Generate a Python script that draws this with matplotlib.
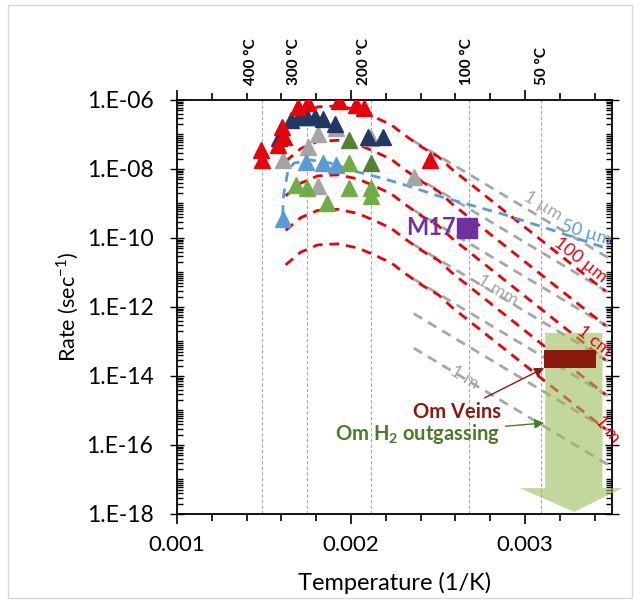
import numpy as np
import matplotlib.pyplot as plt
from matplotlib.ticker import LogLocator, MultipleLocator, NullFormatter, FixedLocator, FixedFormatter
from matplotlib.patches import Polygon, Rectangle

plt.rcParams['font.family'] = ['Lato', 'DejaVu Sans']
plt.rcParams['mathtext.fontset'] = 'custom'
plt.rcParams['mathtext.rm'] = 'Lato'
plt.rcParams['mathtext.bf'] = 'Lato:bold'

# ---- data: x = 1/T (1/K), y = log10(rate / s^-1) ----
# triangles
red_x = [0.001480, 0.001486, 0.001578, 0.001601, 0.001613, 0.001694, 0.001751, 0.001931, 0.002029, 0.002075, 0.002451]
red_y = [-7.45, -7.74, -7.30, -6.78, -7.07, -6.20, -6.09, -6.03, -6.14, -6.23, -7.74]
navy_x = [0.001584, 0.001653, 0.001699, 0.001746, 0.001792, 0.001838, 0.001908, 0.002098, 0.002185]
navy_y = [-7.10, -6.58, -6.49, -6.49, -6.49, -6.55, -6.70, -7.07, -7.07]
grey_x = [0.001607, 0.001751, 0.001809, 0.001913, 0.002116, 0.001809, 0.002364]
grey_y = [-7.74, -7.36, -6.99, -6.81, -7.10, -8.49, -8.23]
ltblue_x = [0.001740, 0.001838, 0.001913, 0.001607]
ltblue_y = [-7.80, -7.83, -7.88, -9.45]
ltgreen_x = [0.001682, 0.001746, 0.001988, 0.001988, 0.002116, 0.002116, 0.001861]
ltgreen_y = [-8.46, -8.55, -7.83, -8.55, -8.55, -8.78, -8.99]
dkgreen_x = [0.001988, 0.002116]
dkgreen_y = [-7.16, -7.83]

# M17
m17_x = 0.002665
m17_y = -9.71

# red model curves (100 um ... 1 m)
curve_x = [0.001624, 0.001711, 0.001809, 0.001925, 0.002040, 0.002133, 0.002231,
           0.002306, 0.002405, 0.002503, 0.002578, 0.003462]
red_100um = [-6.78, -6.41, -6.20, -6.17, -6.29, -6.49, -6.72, -7.01, -7.36, -7.65, -8.00, -11.54]
red_1mm = [-7.78, -7.41, -7.20, -7.17, -7.29, -7.49, -7.72, -8.01, -8.36, -8.65, -9.00, -12.54]
red_1cm = [-8.78, -8.41, -8.20, -8.17, -8.29, -8.49, -8.72, -9.01, -9.36, -9.65, -10.00, -13.54]
red_10cm = [-9.78, -9.41, -9.20, -9.17, -9.29, -9.49, -9.72, -10.01, -10.36, -10.65, -11.00, -14.54]
red_1m = [-10.78, -10.41, -10.20, -10.17, -10.29, -10.49, -10.72, -11.01, -11.36, -11.65, -12.00, -15.54]

# blue 50 um curve
blue_x = [0.001607, 0.001613, 0.001636, 0.001671, 0.001769, 0.001884, 0.002040,
          0.002173, 0.002289, 0.002520, 0.002867, 0.003156, 0.003462]
blue_y = [-9.33, -8.75, -8.09, -7.83, -7.74, -7.83, -8.09, -8.26, -8.43, -8.81, -9.30, -9.77, -10.29]

# grey straight lines (1 um ... 1 m)
grey_line_x = [0.00236, 0.00348]
grey_start = [-7.19, -8.19, -9.19, -10.19, -11.19, -12.19, -13.19]
grey_end = [-10.58, -11.58, -12.58, -13.58, -14.58, -15.58, -16.58]

# temperature marks on the top
temps_C = [400, 300, 200, 100, 50]
temp_text_x = [0.001428, 0.001671, 0.002075, 0.002665, 0.003098]

# ---- figure ----
fig = plt.figure(figsize=(6.4, 6.03), dpi=100)
ax = fig.add_axes([0.2766, 0.1476, 0.6797, 0.6866])
ax.set_yscale('log')
ax.set_xlim(0.001, 0.0035)
ax.set_ylim(1e-18, 1e-6)

red = '#E8000B'
dash = (3.5, 2.5)

for T in temps_C:
    ax.axvline(1.0 / (T + 273.15), color='#A6A6A6', lw=0.8, ls=(0, (3, 2)), zorder=1)

for s, e in zip(grey_start, grey_end):
    ax.plot(grey_line_x, 10.0 ** np.array([s, e]), color='#A6A6A6', lw=2, dashes=dash, zorder=2)

for c in [red_100um, red_1mm, red_1cm, red_10cm, red_1m]:
    ax.plot(curve_x, 10.0 ** np.array(c), color=red, lw=2, dashes=dash, zorder=2)

ax.plot(blue_x, 10.0 ** np.array(blue_y), color='#5B9BD5', lw=2, dashes=dash, zorder=2)

# green arrow (Om H2 outgassing)
bx0, bx1, hx0, hx1, tipx = 0.003116, 0.003445, 0.00297, 0.00356, 0.003283
ytop, yhead, ytip = -12.75, -17.25, -17.94
arrow_pts = [(bx0, ytop), (bx1, ytop), (bx1, yhead), (hx1, yhead), (tipx, ytip), (hx0, yhead), (bx0, yhead)]
ax.add_patch(Polygon([(x, 10.0 ** y) for x, y in arrow_pts], closed=True,
                     facecolor='#9BBB59', alpha=0.6, edgecolor='none', zorder=3, clip_on=False))

# Om veins box
ax.add_patch(Rectangle((0.00311, 10 ** -13.77), 0.000295, 10 ** -13.25 - 10 ** -13.77,
                       facecolor='#8B1A0E', edgecolor='none', zorder=4))

ms = 12
ax.plot(grey_x, 10.0 ** np.array(grey_y), '^', color='#A5A5A5', ms=ms, zorder=5)
ax.plot(navy_x, 10.0 ** np.array(navy_y), '^', color='#1F3864', ms=ms, zorder=5)
ax.plot(ltblue_x, 10.0 ** np.array(ltblue_y), '^', color='#5B9BD5', ms=ms, zorder=5)
ax.plot(ltgreen_x, 10.0 ** np.array(ltgreen_y), '^', color='#70AD47', ms=ms, zorder=5)
ax.plot(dkgreen_x, 10.0 ** np.array(dkgreen_y), '^', color='#548235', ms=ms, zorder=5)
ax.plot(red_x, 10.0 ** np.array(red_y), '^', color=red, ms=ms, zorder=6)

ax.plot([m17_x], [10 ** m17_y], 's', color='#7030A0', ms=14, zorder=6)
ax.text(0.002457, 10 ** m17_y, 'M17', color='#7030A0', fontsize=17, fontweight='bold',
        ha='center', va='center', zorder=6)

# line labels
labels = [('1 µm', 0.003104, -9.07, -31, '#A6A6A6'),
          ('50 µm', 0.003353, -9.85, -17, '#5B9BD5'),
          ('100 µm', 0.003318, -10.62, -38, red),
          ('1 mm', 0.002844, -11.51, -31, '#A6A6A6'),
          ('1 cm', 0.003399, -12.98, -38, red),
          ('1 m', 0.002653, -14.03, -31, '#A6A6A6'),
          ('1 m', 0.003475, -15.55, -50, red)]
for txt, x, y, rot, col in labels:
    ax.text(x, 10 ** y, txt, rotation=rot, color=col, fontsize=13, ha='center', va='center',
            rotation_mode='anchor', zorder=7)

ax.annotate('Om Veins', xy=(0.00311, 10 ** -13.77), xytext=(0.002607, 10 ** -15.04),
            color='#8B1A0E', fontsize=14.5, fontweight='bold', ha='center', va='center',
            arrowprops=dict(arrowstyle='-|>', color='#8B1A0E', lw=1, mutation_scale=14, shrinkA=2, shrinkB=0),
            zorder=7)
ax.annotate('Om H$_\\mathbf{2}$ outgassing', xy=(0.00311, 10 ** -15.36), xytext=(0.002382, 10 ** -15.68),
            color='#4A7A2A', fontsize=14.5, fontweight='bold', ha='center', va='center',
            arrowprops=dict(arrowstyle='-|>', color='#4A7A2A', lw=1, mutation_scale=14, shrinkA=2, shrinkB=0),
            zorder=7)

# top temperature labels
for T, tx in zip(temps_C, temp_text_x):
    ax.text(tx, 1.036, f'{T} °C', transform=ax.get_xaxis_transform(), rotation=90,
            ha='center', va='bottom', fontsize=11, fontweight='bold')

# ticks
ax.xaxis.set_major_locator(FixedLocator([0.001, 0.002, 0.003]))
ax.xaxis.set_major_formatter(FixedFormatter(['0.001', '0.002', '0.003']))
ax.xaxis.set_minor_locator(MultipleLocator(0.0002))
ax.yaxis.set_major_locator(LogLocator(base=100))
ax.yaxis.set_major_formatter(plt.FuncFormatter(lambda v, p: '1.E%+03d' % round(np.log10(v)) if v < 1 else ''))
ax.yaxis.set_minor_locator(LogLocator(base=10, subs=np.arange(1, 10), numticks=100))
ax.yaxis.set_minor_formatter(NullFormatter())
ax.tick_params(axis='x', which='both', top=True, bottom=True, direction='out', labelsize=16, width=1.2)
ax.tick_params(axis='x', which='major', length=7, pad=8)
ax.tick_params(axis='x', which='minor', length=5)
ax.tick_params(axis='y', which='both', left=True, right=True, direction='in', width=1, labelsize=16.5)
ax.tick_params(axis='y', which='major', direction='inout', length=10, pad=12)
ax.tick_params(axis='y', which='minor', length=4)
for sp in ax.spines.values():
    sp.set_linewidth(1.3)

ax.set_xlabel('Temperature (1/K)', fontsize=17, labelpad=12)
ax.set_ylabel('Rate (sec$^{-1}$)', fontsize=15.5, labelpad=4)

fig.add_artist(Rectangle((8 / 640, 5 / 603), 624 / 640, 593 / 603, transform=fig.transFigure,
                         fill=False, edgecolor='#D9D9D9', lw=1))

fig.savefig('out.png', dpi=100)
